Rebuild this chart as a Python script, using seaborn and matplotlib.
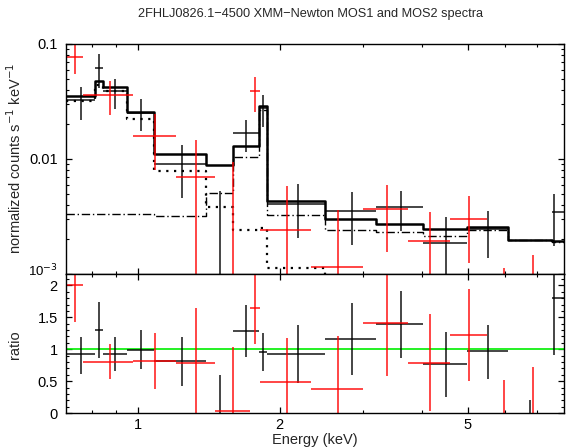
import matplotlib
matplotlib.use("Agg")
import matplotlib.pyplot as plt
import matplotlib.ticker as mticker
import matplotlib.transforms as mtransforms
import numpy as np
import pandas as pd
import seaborn as sns

# ---- model (shared bins, keV) ----
edges = [0.705, 0.8125, 0.845, 0.948, 1.085, 1.397, 1.590, 1.803, 1.878,
         2.491, 3.194, 4.027, 4.975, 6.074, 7.527, 8.0]
model_total = [0.0354, 0.0473, 0.0419, 0.0254, 0.01105, 0.00894, 0.01298, 0.0290,
               0.00434, 0.00302, 0.00273, 0.00245, 0.00257, 0.00198, 0.00193]
model_soft = [0.0321, 0.0440, 0.0388, 0.0221, 0.00781, 0.00379, 0.00241, 0.0025,
              0.00113, 0.0003, 0.0003, 0.0003, 0.0003, 0.0003, 0.0003]
model_hard = [0.0033, 0.0033, 0.0033, 0.0033, 0.0032, 0.0051, 0.0105, 0.0265,
              0.00325, 0.00239, 0.0023, 0.00213, 0.00239, 0.00196, 0.00191]

# ---- MOS1 (black) ----
mos1_e = [0.760, 0.829, 0.894, 1.015, 1.239, 1.494, 1.698, 1.839, 2.186,
          2.842, 3.606, 4.497, 5.515, 6.779, 7.63]
mos1_flux = [0.0325, 0.0619, 0.0387, 0.0252, 0.00897, 0.0004, 0.01669, 0.0278,
             0.00403, 0.0035, 0.0038, 0.00187, 0.00248, 0.0003, 0.00347]
mos1_flux_lo = [0.0218, 0.0412, 0.0274, 0.0174, 0.0046, 0.0001, 0.01144, 0.01914,
                0.00206, 0.0018, 0.00235, 0.00062, 0.00138, 0.0001, 0.00176]
mos1_flux_hi = [0.0424, 0.0825, 0.0497, 0.0331, 0.01315, 0.00527, 0.0219, 0.03625,
                0.00602, 0.00521, 0.00524, 0.0031, 0.00355, 0.0004, 0.0050]
mos1_ratio = [0.918, 1.308, 0.923, 0.992, 0.812, -0.05, 1.286, 0.96, 0.929,
              1.16, 1.392, 0.765, 0.965, -0.05, 1.8]
mos1_ratio_lo = [0.617, 0.87, 0.654, 0.685, 0.416, -0.1, 0.881, 0.66, 0.475,
                 0.596, 0.86, 0.253, 0.538, -0.1, 0.913]
mos1_ratio_hi = [1.198, 1.745, 1.187, 1.302, 1.19, 0.59, 1.688, 1.25, 1.388,
                 1.725, 1.92, 1.266, 1.38, 0.2, 2.6]

# ---- MOS2 (red) ----
mos2_lo = [0.709, 0.766, 0.978, 1.205, 1.46, 1.727, 1.818, 2.333, 3.005,
           3.733, 4.59, 5.49, 6.45]
mos2_hi = [0.766, 0.978, 1.205, 1.46, 1.727, 1.818, 2.333, 3.005, 3.733,
           4.59, 5.49, 6.45, 7.4]
mos2_e = [0.736, 0.873, 1.090, 1.329, 1.591, 1.773, 2.07, 2.662, 3.37,
          4.161, 5.024, 5.976, 6.88]
mos2_flux = [0.077, 0.0357, 0.01587, 0.00697, 0.0004, 0.0387, 0.0024, 0.00114,
             0.0037, 0.00193, 0.00302, 0.0003, 0.0003]
mos2_flux_lo = [0.0551, 0.0239, 0.008, 0.0001, 0.0001, 0.0255, 0.0001, 0.0001,
                0.00154, 0.0001, 0.00125, 0.0001, 0.0001]
mos2_flux_hi = [0.11, 0.0479, 0.0245, 0.01455, 0.0095, 0.0512, 0.00582, 0.00357,
                0.00589, 0.00349, 0.00481, 0.00112, 0.00145]
mos2_ratio = [2.0, 0.802, 0.812, 0.787, 0.036, 1.646, 0.48, 0.38, 1.419,
              0.786, 1.229, -0.05, -0.05]
mos2_ratio_lo = [1.424, 0.527, 0.38, -0.1, -0.1, 1.09, -0.1, -0.1, 0.58,
                 0.036, 0.50, -0.1, -0.1]
mos2_ratio_hi = [2.6, 1.076, 1.25, 1.65, 1.04, 2.25, 1.17, 1.21, 2.17,
                 1.546, 1.94, 0.51, 0.72]

sns.set_theme(style="ticks")
plt.rcParams["font.family"] = ["Liberation Sans", "DejaVu Sans"]
plt.rcParams["font.size"] = 10.5
plt.rcParams["axes.linewidth"] = 1.0

fig = plt.figure(figsize=(5.66, 4.48), dpi=100)
ax1 = fig.add_axes([0.1166, 0.3884, 0.8799, 0.5134])
ax2 = fig.add_axes([0.1166, 0.0781, 0.8799, 0.3103], sharex=ax1)
ax1.set_xscale("log")
ax1.set_yscale("log")


def steps(vals):
    return pd.DataFrame({"E": edges, "v": list(vals) + [vals[-1]]})


def errbars(ax, e, lo, hi, y, ylo, yhi, color):
    e = np.array(e)
    y = np.array(y)
    ax.errorbar(e, y, xerr=[e - np.array(lo), np.array(hi) - e],
                yerr=[y - np.array(ylo), np.array(yhi) - y],
                fmt="none", ecolor=color, elinewidth=1.2, capsize=0, alpha=0.85)


# top panel: model + components
sns.lineplot(data=steps(model_total), x="E", y="v", ax=ax1, color="black",
             lw=1.8, drawstyle="steps-post")
sns.lineplot(data=steps(model_soft), x="E", y="v", ax=ax1, color="black",
             lw=1.6, linestyle=(0, (1, 2.5)), drawstyle="steps-post")
sns.lineplot(data=steps(model_hard), x="E", y="v", ax=ax1, color="black",
             lw=1.0, linestyle=(0, (6, 2, 1, 2)), drawstyle="steps-post")

errbars(ax1, mos1_e, edges[:-1], edges[1:], mos1_flux, mos1_flux_lo, mos1_flux_hi, "black")
errbars(ax1, mos2_e, mos2_lo, mos2_hi, mos2_flux, mos2_flux_lo, mos2_flux_hi, "red")

# bottom panel: ratio
ax2.axhline(1.0, color="#00ee00", lw=1.2, zorder=1)
errbars(ax2, mos1_e, edges[:-1], edges[1:], mos1_ratio, mos1_ratio_lo, mos1_ratio_hi, "black")
errbars(ax2, mos2_e, mos2_lo, mos2_hi, mos2_ratio, mos2_ratio_lo, mos2_ratio_hi, "red")

ax1.set_xlim(0.705, 8.0)
ax1.set_ylim(1e-3, 0.1)
ax2.set_ylim(0, 2.18)

for ax in (ax1, ax2):
    ax.set_xlabel("")
    ax.set_ylabel("")
    ax.xaxis.set_major_locator(mticker.FixedLocator([1, 2, 5]))
    ax.xaxis.set_minor_locator(mticker.FixedLocator([0.8, 0.9, 3, 4, 6, 7]))
    ax.xaxis.set_minor_formatter(mticker.NullFormatter())
    ax.tick_params(which="both", direction="in", top=True, right=True,
                   colors="black", labelsize=10.5)
    ax.tick_params(which="major", length=4.5, width=0.9)
    ax.tick_params(which="minor", length=2.5, width=0.8)
    ax.tick_params(axis="y", pad=6)
    for s in ax.spines.values():
        s.set_color("black")

ax1.tick_params(axis="x", labelbottom=False)
ax1.yaxis.set_major_locator(mticker.FixedLocator([1e-3, 1e-2, 1e-1]))
ax1.yaxis.set_major_formatter(mticker.FixedFormatter(["10$^{-3}$", "0.01", "0.1"]))
ax1.yaxis.set_minor_locator(mticker.LogLocator(subs=np.arange(2, 10)))
ax1.yaxis.set_minor_formatter(mticker.NullFormatter())

ax2.xaxis.set_major_formatter(mticker.FuncFormatter(lambda v, p: f"{v:g}"))
ax2.yaxis.set_major_locator(mticker.MultipleLocator(0.5))
ax2.yaxis.set_minor_locator(mticker.MultipleLocator(0.1))
ax2.yaxis.set_major_formatter(mticker.FuncFormatter(lambda v, p: f"{v:g}"))

# lift the 10^-3 label a little so it clears the ratio "2"
fig.canvas.draw()
lbl = ax1.get_yticklabels()[0]
lbl.set_fontsize(9.5)
lbl.set_transform(lbl.get_transform() +
                  mtransforms.ScaledTranslation(0, 3 / 72, fig.dpi_scale_trans))

fig.text(0.548, 1 - 14 / 448, "2FHLJ0826.1\u22124500 XMM\u2212Newton MOS1 and MOS2 spectra",
         ha="center", va="center", fontsize=9.2)
fig.text(15 / 566, 1 - 158 / 448, "normalized counts s$^{-1}$ keV$^{-1}$",
         rotation=90, ha="center", va="center", fontsize=10.5)
fig.text(15 / 566, 1 - 345 / 448, "ratio", rotation=90, ha="center", va="center", fontsize=10.5)
fig.text(315 / 566, 1 - 440 / 448, "Energy (keV)", ha="center", va="center", fontsize=10.5)

fig.savefig("out.png", dpi=100)
